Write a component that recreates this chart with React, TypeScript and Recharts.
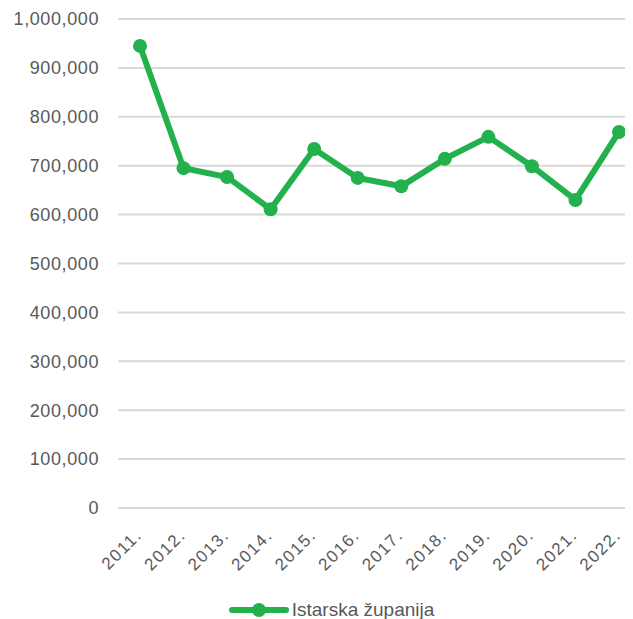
import React from 'react';
import { LineChart, Line, XAxis, YAxis, CartesianGrid, Legend } from 'recharts';

const years = ['2011.', '2012.', '2013.', '2014.', '2015.', '2016.', '2017.', '2018.', '2019.', '2020.', '2021.', '2022.'];
const istarska = [945000, 695000, 677000, 611000, 734000, 675000, 658000, 714000, 759000, 699000, 630000, 769000];
const yTicks = [0, 100000, 200000, 300000, 400000, 500000, 600000, 700000, 800000, 900000, 1000000];

const data = years.map((year, i) => ({ year, value: istarska[i] }));

const GREEN = '#22b14c';
const TEXT = '#595959';
const FONT = '"Liberation Sans", Arial, sans-serif';

const XTick = (props: any) => {
    const { x, y, payload } = props;
    return (
        <g transform={`translate(${x + 3},${y + 20}) rotate(-45)`}>
            <text x={0} y={0} textAnchor="end" fill={TEXT} fontSize={17} letterSpacing={1.5} fontFamily={FONT}>
                {payload.value}
            </text>
        </g>
    );
};

const LegendContent = () => (
    <div style={{ display: 'flex', alignItems: 'center', justifyContent: 'center', fontFamily: FONT, fontSize: 19, color: TEXT, paddingLeft: 22 }}>
        <svg width={60} height={20} style={{ marginRight: 3 }}>
            <line x1={3} y1={10} x2={57} y2={10} stroke={GREEN} strokeWidth={6} strokeLinecap="round" />
            <circle cx={30} cy={10} r={7} fill={GREEN} />
        </svg>
        <span>Istarska županija</span>
    </div>
);

export default function App() {
    return (
        <div style={{ margin: '-8px 0 0 -8px', width: 633, height: 619, overflow: 'hidden' }}>
            <LineChart width={641} height={619} data={data} margin={{ top: 19, right: 0, left: 0, bottom: 0 }}>
                <CartesianGrid vertical={false} stroke="#d9d9d9" strokeWidth={2} />
                <XAxis
                    dataKey="year"
                    axisLine={false}
                    tickLine={false}
                    interval={0}
                    height={91}
                    padding={{ left: 22, right: 22 }}
                    tick={<XTick />}
                />
                <YAxis
                    domain={[0, 1000000]}
                    ticks={yTicks}
                    width={118}
                    axisLine={false}
                    tickLine={false}
                    tickSize={0}
                    tickMargin={19}
                    tickFormatter={(v: number) => v.toLocaleString('en-US')}
                    tick={{ fill: TEXT, fontSize: 18, fontFamily: FONT, letterSpacing: 0.6 }}
                />
                <Legend verticalAlign="bottom" height={20} content={<LegendContent />} />
                <Line
                    type="linear"
                    dataKey="value"
                    name="Istarska županija"
                    stroke={GREEN}
                    strokeWidth={6}
                    dot={{ r: 7, fill: GREEN, stroke: GREEN, strokeWidth: 0 }}
                    activeDot={false}
                    isAnimationActive={false}
                />
            </LineChart>
        </div>
    );
}
